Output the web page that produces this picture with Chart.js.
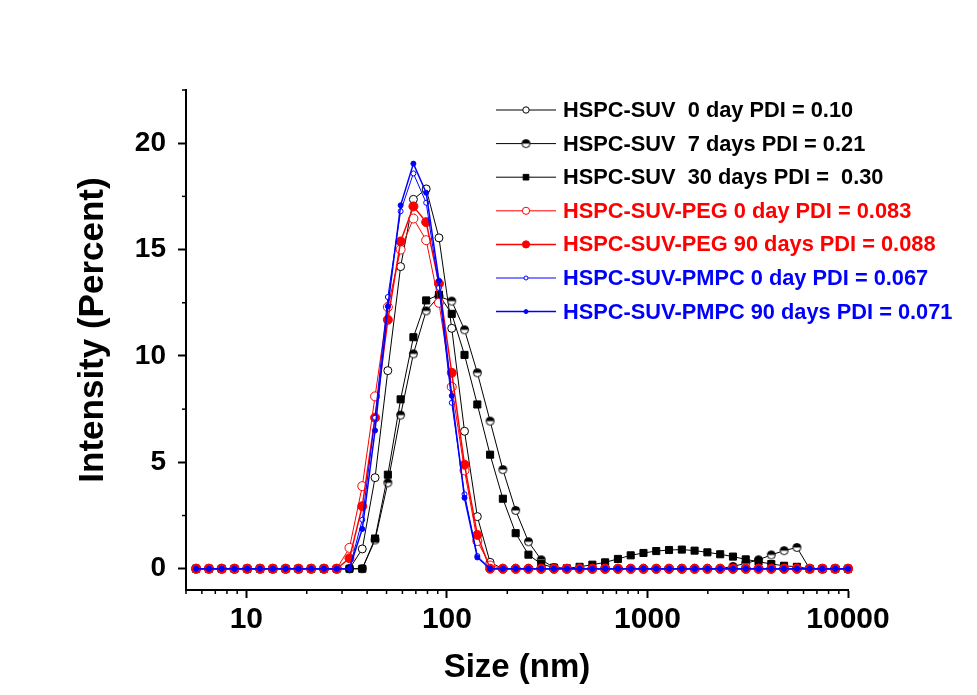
<!DOCTYPE html>
<html>
<head>
<meta charset="utf-8">
<script src="https://cdn.jsdelivr.net/npm/chart.js@4.4.0/dist/chart.umd.min.js"></script>
<style>
  html, body { margin: 0; padding: 0; background: #fff; }
</style>
</head>
<body>
<canvas id="sizeChart" width="977" height="695"></canvas>
<script>
// size classes (nm) of the DLS report
const sizes = [5.615, 6.503, 7.531, 8.721, 10.1, 11.7, 13.54, 15.69, 18.17, 21.04, 24.36, 28.21,
  32.67, 37.84, 43.82, 50.75, 58.77, 68.06, 78.82, 91.28, 105.7, 122.4, 141.8, 164.2, 190.1,
  220.2, 255, 295.3, 342, 396.1, 458.7, 531.2, 615.1, 712.4, 825, 955.4, 1106, 1281, 1484,
  1718, 1990, 2305, 2669, 3091, 3580, 4145, 4801, 5560, 6439, 7456, 8635, 10000];

const suv0 = [0, 0, 0, 0, 0, 0, 0, 0, 0, 0, 0, 0,
  0, 0.93, 4.28, 9.31, 14.2, 17.36, 17.85, 15.55, 11.3, 6.46, 2.45, 0.3, 0,
  0, 0, 0, 0, 0, 0, 0, 0, 0, 0, 0, 0, 0, 0,
  0, 0, 0, 0, 0, 0, 0, 0, 0, 0, 0, 0, 0];
const suv7 = [0, 0, 0, 0, 0, 0, 0, 0, 0, 0, 0, 0,
  0, 0, 1.35, 4.04, 7.22, 10.1, 12.12, 12.8, 12.58, 11.23, 9.21, 6.94, 4.66,
  2.74, 1.27, 0.42, 0.06, 0, 0, 0, 0, 0, 0, 0, 0, 0, 0,
  0, 0, 0, 0.11, 0.25, 0.42, 0.65, 0.85, 1.0, 0, 0, 0, 0];
const suv30 = [0, 0, 0, 0, 0, 0, 0, 0, 0, 0, 0, 0,
  0, 0, 1.42, 4.42, 7.96, 10.88, 12.61, 12.88, 11.98, 10.05, 7.72, 5.36, 3.29,
  1.67, 0.66, 0.22, 0.05, 0.02, 0.09, 0.19, 0.3, 0.46, 0.63, 0.74, 0.83, 0.88, 0.9,
  0.85, 0.77, 0.68, 0.57, 0.44, 0.33, 0.22, 0.14, 0.09, 0, 0, 0, 0];
const peg0 = [0, 0, 0, 0, 0, 0, 0, 0, 0, 0, 0, 0,
  0.98, 3.88, 8.1, 12.3, 15.0, 16.46, 15.44, 12.5, 8.55, 4.62, 1.3, 0.15, 0,
  0, 0, 0, 0, 0, 0, 0, 0, 0, 0, 0, 0, 0, 0,
  0, 0, 0, 0, 0, 0, 0, 0, 0, 0, 0, 0, 0];
const peg90 = [0, 0, 0, 0, 0, 0, 0, 0, 0, 0, 0, 0,
  0.49, 2.94, 7.1, 11.7, 15.38, 17.03, 16.29, 13.4, 9.21, 4.89, 1.59, 0, 0,
  0, 0, 0, 0, 0, 0, 0, 0, 0, 0, 0, 0, 0, 0,
  0, 0, 0, 0, 0, 0, 0, 0, 0, 0, 0, 0, 0];
const pmpc0 = [0, 0, 0, 0, 0, 0, 0, 0, 0, 0, 0, 0,
  0, 2.3, 7.1, 12.77, 16.8, 18.58, 17.2, 13.2, 7.8, 3.5, 0.6, 0, 0,
  0, 0, 0, 0, 0, 0, 0, 0, 0, 0, 0, 0, 0, 0,
  0, 0, 0, 0, 0, 0, 0, 0, 0, 0, 0, 0, 0];
const pmpc90 = [0, 0, 0, 0, 0, 0, 0, 0, 0, 0, 0, 0,
  0, 1.87, 6.5, 12.33, 17.08, 19.04, 17.67, 13.54, 8.13, 3.33, 0.53, 0, 0,
  0, 0, 0, 0, 0, 0, 0, 0, 0, 0, 0, 0, 0, 0,
  0, 0, 0, 0, 0, 0, 0, 0, 0, 0, 0, 0, 0];

const labels = [
  'HSPC-SUV  0 day PDI = 0.10',
  'HSPC-SUV  7 days PDI = 0.21',
  'HSPC-SUV  30 days PDI =  0.30',
  'HSPC-SUV-PEG 0 day PDI = 0.083',
  'HSPC-SUV-PEG 90 days PDI = 0.088',
  'HSPC-SUV-PMPC 0 day PDI = 0.067',
  'HSPC-SUV-PMPC 90 days PDI = 0.071'
];

const yTitle = 'Intensity (Percent)';
const xTitle = 'Size (nm)';
const yTickValues = [0, 2.5, 5, 7.5, 10, 12.5, 15, 17.5, 20, 22.5];
const xTickValues = [5, 6, 7, 8, 9, 10, 20, 30, 40, 50, 60, 70, 80, 90, 100, 200, 300, 400, 500,
  600, 700, 800, 900, 1000, 2000, 3000, 4000, 5000, 6000, 7000, 8000, 9000, 10000];

const FONT = "'Liberation Sans', Arial, sans-serif";

function halfMarker() {
  const c = document.createElement('canvas');
  c.width = 11; c.height = 11;
  const g = c.getContext('2d');
  g.beginPath(); g.arc(5.5, 5.5, 4, 0, Math.PI * 2); g.fillStyle = '#fff'; g.fill();
  g.beginPath(); g.arc(5.5, 5.5, 4, Math.PI, Math.PI * 2); g.closePath(); g.fillStyle = '#000'; g.fill();
  g.beginPath(); g.arc(5.5, 5.5, 4, 0, Math.PI * 2); g.lineWidth = 1; g.strokeStyle = '#000'; g.stroke();
  return c;
}

const toPoints = arr => sizes.map((s, i) => ({ x: s, y: arr[i] }));

function series(i, data, color, fill, style, radius, width) {
  return {
    label: labels[i],
    data: toPoints(data),
    borderColor: color,
    backgroundColor: fill,
    pointBackgroundColor: fill,
    pointBorderColor: color,
    pointStyle: style,
    pointRadius: radius,
    pointBorderWidth: 1,
    borderWidth: width,
    tension: 0,
    clip: false,
    order: 6 - i
  };
}

const isPow10 = v => Math.abs(Math.log10(v) - Math.round(Math.log10(v))) < 1e-9;

// minor ticks (short), the y title and the legend, drawn by hand
const extrasPlugin = {
  id: 'extras',
  afterDraw(chart) {
    const ctx = chart.ctx;
    const xs = chart.scales.x, ys = chart.scales.y;
    ctx.save();
    ctx.strokeStyle = '#000';
    ctx.lineWidth = 1.5;
    xs.ticks.forEach(t => {
      if (isPow10(t.value)) return;
      const px = xs.getPixelForValue(t.value);
      ctx.beginPath(); ctx.moveTo(px, xs.top); ctx.lineTo(px, xs.top + 4); ctx.stroke();
    });
    ys.ticks.forEach(t => {
      if (t.value % 5 === 0) return;
      const py = ys.getPixelForValue(t.value);
      ctx.beginPath(); ctx.moveTo(ys.right, py); ctx.lineTo(ys.right - 4, py); ctx.stroke();
    });

    // y axis title
    ctx.save();
    ctx.translate(93, 330);
    ctx.rotate(-Math.PI / 2);
    ctx.font = 'bold 35px ' + FONT;
    ctx.fillStyle = '#000';
    ctx.textAlign = 'center';
    ctx.textBaseline = 'middle';
    ctx.fillText(yTitle, 0, 0);
    ctx.restore();

    chart.data.datasets.forEach((ds, i) => {
      const y = 110 + i * 33.6;
      ctx.strokeStyle = ds.borderColor;
      ctx.lineWidth = ds.borderWidth;
      ctx.beginPath(); ctx.moveTo(496, y); ctx.lineTo(556, y); ctx.stroke();
      ctx.fillStyle = ds.pointBackgroundColor;
      ctx.strokeStyle = ds.pointBorderColor;
      ctx.lineWidth = 1;
      Chart.helpers.drawPoint(ctx, { pointStyle: ds.pointStyle, radius: ds.pointRadius * 0.8, borderWidth: 1, rotation: 0 }, 526, y);
      ctx.fillStyle = ds.borderColor;
      ctx.font = 'bold 21.8px ' + FONT;
      ctx.textBaseline = 'middle';
      ctx.textAlign = 'left';
      ctx.fillText(ds.label, 563, y + 1);
    });
    ctx.restore();
  }
};

const ctx = document.getElementById('sizeChart');
new Chart(ctx, {
  type: 'line',
  data: {
    datasets: [
      series(0, suv0, '#000000', '#ffffff', 'circle', 4, 1),
      series(1, suv7, '#000000', '#000000', halfMarker(), 4, 1),
      series(2, suv30, '#000000', '#000000', 'rect', 5, 1),
      series(3, peg0, '#ff0000', '#ffffff', 'circle', 4.5, 1),
      series(4, peg90, '#ff0000', '#ff0000', 'circle', 4.5, 1.5),
      series(5, pmpc0, '#0000ff', '#ffffff', 'circle', 2.5, 1),
      series(6, pmpc90, '#0000ff', '#0000ff', 'circle', 2.5, 1.5)
    ]
  },
  options: {
    responsive: false,
    animation: false,
    layout: { padding: { left: 0, top: 90, right: 129, bottom: 0 } },
    plugins: { legend: { display: false }, tooltip: { enabled: false } },
    scales: {
      x: {
        type: 'logarithmic',
        position: 'bottom',
        min: 5,
        max: 10000,
        afterFit(s) { s.height = 105; },
        afterBuildTicks(s) { s.ticks = xTickValues.map(v => ({ value: v, major: isPow10(v) })); },
        ticks: {
          autoSkip: false,
          maxRotation: 0,
          color: '#000',
          padding: 4,
          font: { family: FONT, size: 30, weight: 'bold' },
          callback: v => isPow10(v) ? String(v) : ''
        },
        grid: {
          drawOnChartArea: false,
          drawTicks: true,
          tickLength: 8,
          tickWidth: 2,
          tickColor: c => (c.tick && isPow10(c.tick.value)) ? '#000' : 'rgba(0,0,0,0)'
        },
        border: { display: true, color: '#000', width: 2 },
        title: {
          display: true,
          text: xTitle,
          color: '#000',
          font: { family: FONT, size: 33, weight: 'bold' },
          padding: { top: 0, bottom: 7 }
        }
      },
      y: {
        min: -1,
        max: 22.5,
        afterFit(s) { s.width = 186; },
        afterBuildTicks(s) { s.ticks = yTickValues.map(v => ({ value: v })); },
        ticks: {
          color: '#000',
          padding: 12,
          font: { family: FONT, size: 28, weight: 'bold' },
          callback: v => (v % 5 === 0) ? String(v) : ''
        },
        grid: {
          drawOnChartArea: false,
          drawTicks: true,
          tickLength: 8,
          tickWidth: 2,
          tickColor: c => (c.tick && c.tick.value % 5 === 0) ? '#000' : 'rgba(0,0,0,0)'
        },
        border: { display: true, color: '#000', width: 2 },
        title: { display: false }
      }
    }
  },
  plugins: [extrasPlugin]
});
</script>
</body>
</html>
